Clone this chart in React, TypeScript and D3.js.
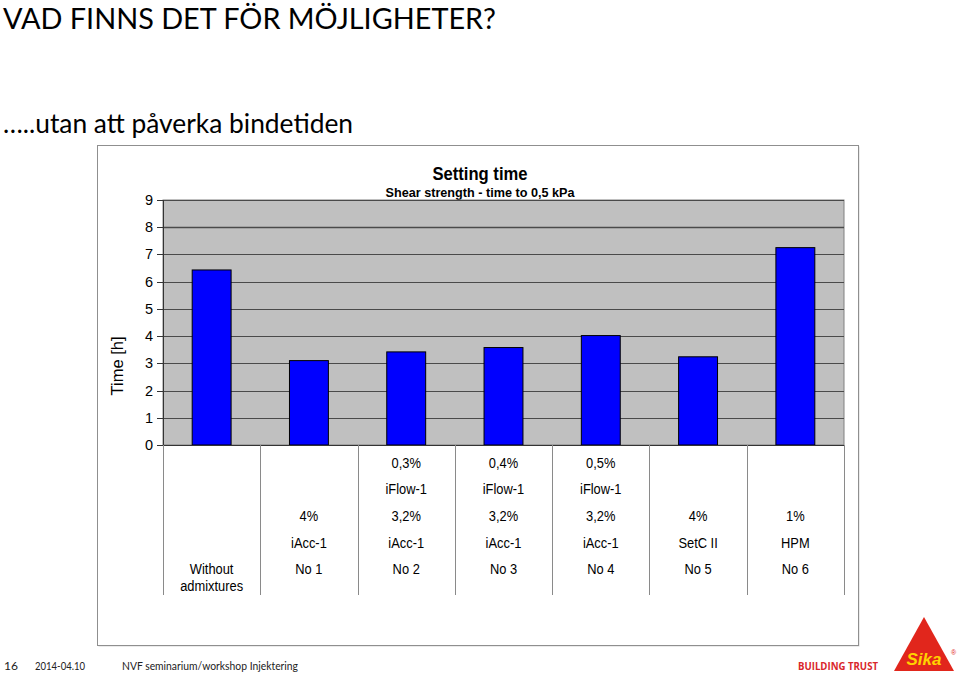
import React from "react";
import * as d3 from "d3";

const categories = ["Without admixtures", "No 1", "No 2", "No 3", "No 4", "No 5", "No 6"];
const values = [6.43, 3.1, 3.42, 3.58, 4.02, 3.24, 7.25];
const labelRows: string[][] = [
  ["", "", "", "", "Without"],
  ["", "", "4%", "iAcc-1", "No 1"],
  ["0,3%", "iFlow-1", "3,2%", "iAcc-1", "No 2"],
  ["0,4%", "iFlow-1", "3,2%", "iAcc-1", "No 3"],
  ["0,5%", "iFlow-1", "3,2%", "iAcc-1", "No 4"],
  ["", "", "4%", "SetC II", "No 5"],
  ["", "", "1%", "HPM", "No 6"],
];
const extraLine = ["admixtures", "", "", "", "", "", ""];
const yTicks = [0, 1, 2, 3, 4, 5, 6, 7, 8, 9];

const W = 959;
const H = 673;
const plot = { left: 163, right: 844, top: 200, bottom: 445 };
const rowY = [468, 494, 521, 548, 574];

export default function App() {
  const x = d3
    .scaleBand<string>()
    .domain(categories)
    .range([plot.left, plot.right])
    .paddingInner(0.6)
    .paddingOuter(0.3);
  const step = x.step();
  const y = d3.scaleLinear().domain([0, 9]).range([plot.bottom, plot.top]);
  const arial = "Liberation Sans, Arial, sans-serif";
  const cal = "Lato, 'Open Sans', sans-serif";

  return (
    <svg width={W} height={H} style={{ position: "absolute", left: 0, top: 0, background: "#fff" }}>
      <text x={3} y={29} fontFamily={cal} fontSize={29} textLength={493} lengthAdjust="spacingAndGlyphs" fill="#000">
        VAD FINNS DET FÖR MÖJLIGHETER?
      </text>
      <text x={3} y={133} fontFamily={cal} fontSize={26} textLength={350} lengthAdjust="spacingAndGlyphs" fill="#000">
        …..utan att påverka bindetiden
      </text>

      {/* chart frame */}
      <rect x={98.5} y={146.5} width={761} height={500} fill="#d8d8d8" />
      <rect x={97.5} y={145.5} width={761} height={500} fill="#fff" stroke="#8f8f8f" strokeWidth={1} />

      <text x={480} y={180} textAnchor="middle" fontFamily={arial} fontSize={18.5} fontWeight="bold" textLength={95} lengthAdjust="spacingAndGlyphs">
        Setting time
      </text>
      <text x={480} y={197} textAnchor="middle" fontFamily={arial} fontSize={13.5} fontWeight="bold" textLength={189} lengthAdjust="spacingAndGlyphs">
        Shear strength - time to 0,5 kPa
      </text>

      {/* plot */}
      <rect x={plot.left} y={plot.top} width={plot.right - plot.left} height={plot.bottom - plot.top} fill="#c0c0c0" stroke="#808080" strokeWidth={1} />
      {yTicks.slice(1).map((t) => (
        <line key={t} x1={plot.left} x2={plot.right} y1={Math.round(y(t)) + 0.5} y2={Math.round(y(t)) + 0.5} stroke="#4a4a4a" strokeWidth={t === 8 ? 1.6 : 1} />
      ))}
      {categories.map((c, i) => (
        <rect key={c} x={x(c)} y={y(values[i])} width={x.bandwidth()} height={y(0) - y(values[i])} fill="#0000ff" stroke="#000" strokeWidth={1} />
      ))}
      <line x1={plot.left + 0.5} x2={plot.left + 0.5} y1={plot.top} y2={plot.bottom} stroke="#333" />
      <line x1={plot.left} x2={plot.right} y1={plot.bottom + 0.5} y2={plot.bottom + 0.5} stroke="#333" />
      {yTicks.map((t) => (
        <g key={t}>
          <line x1={157} x2={plot.left} y1={Math.round(y(t)) + 0.5} y2={Math.round(y(t)) + 0.5} stroke="#333" />
          <text x={153} y={y(t) + 5} textAnchor="end" fontFamily={arial} fontSize={14.5} fill="#000">
            {t}
          </text>
        </g>
      ))}
      <text transform="translate(123,366) rotate(-90)" textAnchor="middle" fontFamily={arial} fontSize={16.5} fill="#000">
        Time [h]
      </text>

      {/* data table */}
      {d3.range(categories.length + 1).map((i) => {
        const xx = Math.round(plot.left + i * step) + 0.5;
        return <line key={i} x1={xx} x2={xx} y1={plot.bottom} y2={595} stroke="#8a8a8a" />;
      })}
      {categories.map((c, i) => {
        const cx = (x(c) as number) + x.bandwidth() / 2;
        return (
          <g key={c}>
            {labelRows[i].map((s, r) =>
              s ? (
                <text key={r} x={cx} y={rowY[r]} textAnchor="middle" fontFamily={arial} fontSize={14} fill="#000" transform={`translate(${cx},0) scale(0.92,1) translate(${-cx},0)`}>
                  {s}
                </text>
              ) : null
            )}
            {extraLine[i] ? (
              <text x={cx} y={591} textAnchor="middle" fontFamily={arial} fontSize={14} fill="#000" transform={`translate(${cx},0) scale(0.92,1) translate(${-cx},0)`}>
                {extraLine[i]}
              </text>
            ) : null}
          </g>
        );
      })}

      {/* footer */}
      <text x={4} y={670} fontFamily={cal} fontSize={12} fill="#222">16</text>
      <text x={35} y={670} fontFamily={cal} fontSize={12} fill="#222" textLength={50} lengthAdjust="spacingAndGlyphs">2014-04.10</text>
      <text x={122} y={670} fontFamily={cal} fontSize={12} fill="#222" textLength={176} lengthAdjust="spacingAndGlyphs">NVF seminarium/workshop Injektering</text>
      <text x={798} y={670} fontFamily="'Open Sans', sans-serif" fontSize={10.5} fontWeight="bold" fill="#d9262b" textLength={80} lengthAdjust="spacingAndGlyphs">BUILDING TRUST</text>

      {/* logo */}
      <path d="M924,617 L954,671 L894,671 Z" fill="#e1261c" />
      <text x={924} y={665} textAnchor="middle" fontFamily={arial} fontSize={17} fontWeight="bold" fontStyle="italic" fill="#ffd200">Sika</text>
      <text x={951} y={655} fontFamily={arial} fontSize={7} fill="#e1261c">®</text>
    </svg>
  );
}
